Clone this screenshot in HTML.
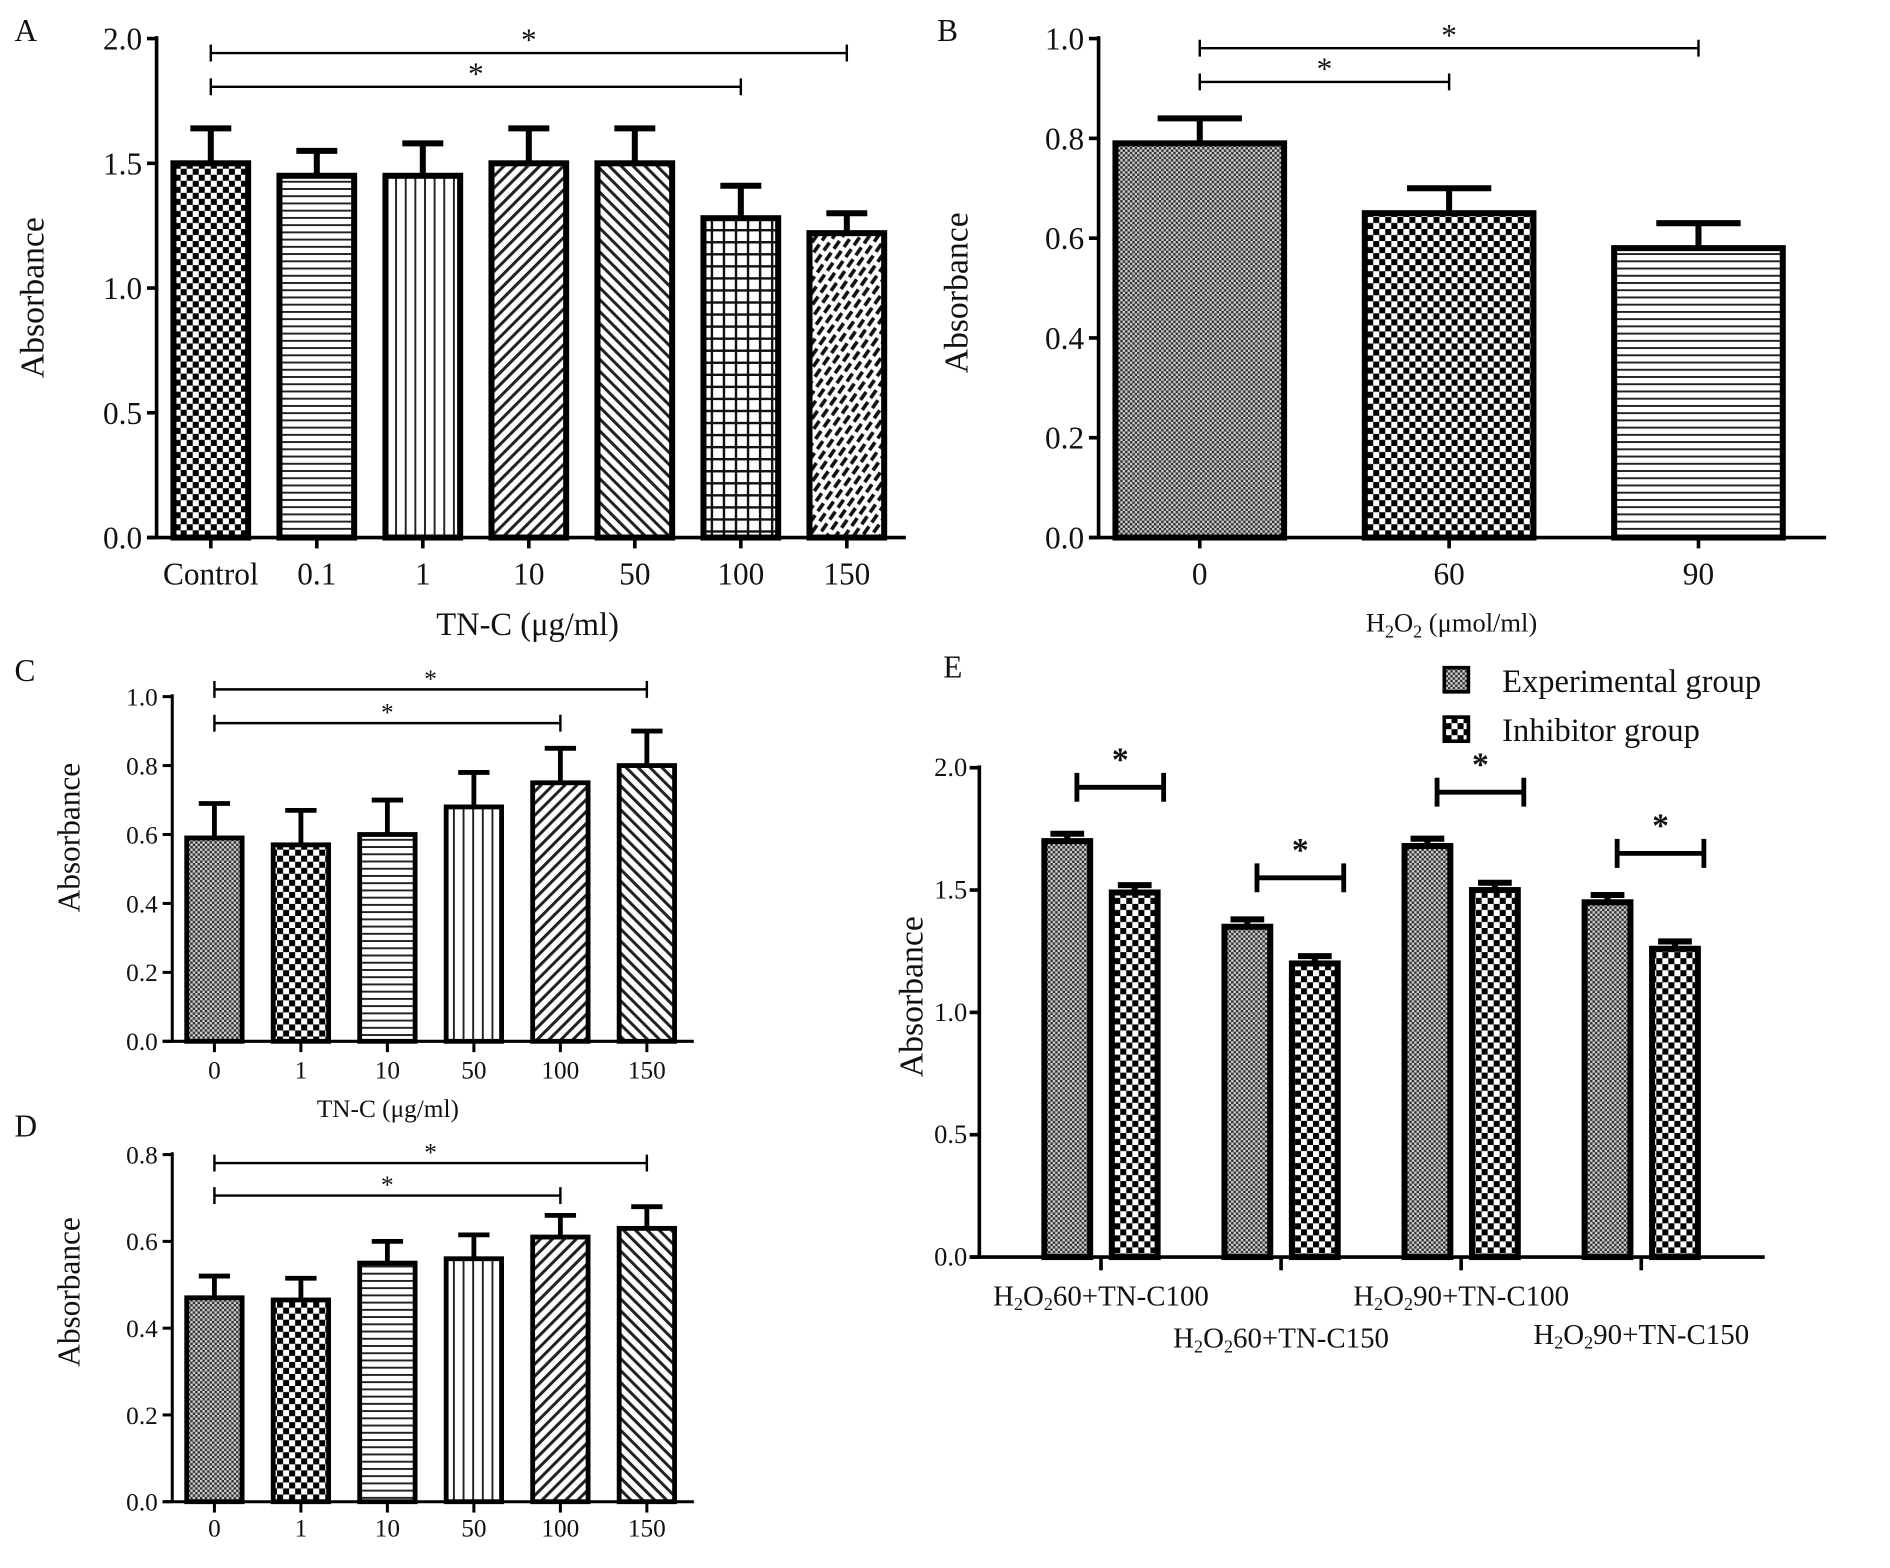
<!DOCTYPE html>
<html><head><meta charset="utf-8">
<style>
html,body{margin:0;padding:0;background:#fff;}
svg{display:block;}
text{font-family:"Liberation Serif",serif;fill:#111;}
</style></head>
<body>
<svg id="fig" width="1890" height="1568" viewBox="0 0 1569 1301" preserveAspectRatio="none" xmlns="http://www.w3.org/2000/svg">
<defs>
<pattern id="pChk" width="10" height="10" patternUnits="userSpaceOnUse"><rect width="10" height="10" fill="#fff"/><rect width="5" height="5" fill="#000"/><rect x="5" y="5" width="5" height="5" fill="#000"/></pattern>
<pattern id="pFine" width="4" height="4" patternUnits="userSpaceOnUse"><rect width="4" height="4" fill="#ccc"/><rect width="2" height="2" fill="#333"/><rect x="2" y="2" width="2" height="2" fill="#333"/></pattern>
<pattern id="pHor" width="6" height="6" patternUnits="userSpaceOnUse"><rect width="6" height="6" fill="#fff"/><rect y="0" width="6" height="1.6" fill="#222"/></pattern>
<pattern id="pVer" width="8" height="8" patternUnits="userSpaceOnUse"><rect width="8" height="8" fill="#fff"/><rect width="1.6" height="8" fill="#222"/></pattern>
<pattern id="pDiagR" width="7" height="7" patternUnits="userSpaceOnUse" patternTransform="rotate(45)"><rect width="7" height="7" fill="#fff"/><rect width="2.5" height="7" fill="#222"/></pattern>
<pattern id="pDiagL" width="7" height="7" patternUnits="userSpaceOnUse" patternTransform="rotate(-45)"><rect width="7" height="7" fill="#fff"/><rect width="2.5" height="7" fill="#222"/></pattern>
<pattern id="pGrid" width="10" height="10" patternUnits="userSpaceOnUse"><rect width="10" height="10" fill="#fff"/><rect width="2" height="10" fill="#111"/><rect width="10" height="2" fill="#111"/></pattern>
<pattern id="pDash" width="12" height="12" patternUnits="userSpaceOnUse" patternTransform="rotate(-55)"><rect width="12" height="12" fill="#fff"/><rect width="8" height="3" fill="#111"/><rect x="6" y="6" width="8" height="3" fill="#111"/><rect x="-6" y="6" width="8" height="3" fill="#111"/></pattern>
</defs>
</svg>
<script>
// ---- Panel A data ----
const aCategories = ["Control","0.1","1","10","50","100","150"];
const aValues = [1.5,1.45,1.45,1.5,1.5,1.28,1.22];
const aErrors = [0.14,0.10,0.13,0.14,0.14,0.13,0.08];
const aTicks = ["0.0","0.5","1.0","1.5","2.0"];
// ---- Panel B data ----
const bCategories = ["0","60","90"];
const bValues = [0.79,0.65,0.58];
const bErrors = [0.05,0.05,0.05];
const bTicks = ["0.0","0.2","0.4","0.6","0.8","1.0"];
// ---- Panel C data ----
const cCategories = ["0","1","10","50","100","150"];
const cValues = [0.59,0.57,0.60,0.68,0.75,0.80];
const cErrors = [0.10,0.10,0.10,0.10,0.10,0.10];
const cTicks = ["0.0","0.2","0.4","0.6","0.8","1.0"];
// ---- Panel D data ----
const dCategories = ["0","1","10","50","100","150"];
const dValues = [0.47,0.465,0.55,0.56,0.61,0.63];
const dErrors = [0.05,0.05,0.05,0.055,0.05,0.05];
const dTicks = ["0.0","0.2","0.4","0.6","0.8"];
// ---- Panel E data ----
const eCategories = ["60+TN-C100","60+TN-C150","90+TN-C100","90+TN-C150"];
const eExperimental = [1.70,1.35,1.68,1.45];
const eInhibitor = [1.49,1.20,1.50,1.26];
const eExpErr = [0.03,0.03,0.03,0.03];
const eInhErr = [0.03,0.03,0.03,0.03];
const eTicks = ["0.0","0.5","1.0","1.5","2.0"];

const svg = document.getElementById('fig');
const NS = 'http://www.w3.org/2000/svg';
function mk(tag, attrs, parent){
  const e = document.createElementNS(NS, tag);
  for (const k in attrs) e.setAttribute(k, attrs[k]);
  (parent||svg).appendChild(e);
  return e;
}
function txt(s, x, y, size, anchor, parent, rot){
  const t = mk('text', {x:x, y:y, 'font-size':size, 'text-anchor':anchor||'middle'}, parent);
  if (rot) t.setAttribute('transform', 'rotate(-90 '+x+' '+y+')');
  t.textContent = s;
  return t;
}

function panel(cfg){
  const g = mk('g', {});
  
  
  const ymax = parseFloat(cfg.ticks[cfg.ticks.length-1]);
  const yS = v => cfg.y0 - (v / ymax) * (cfg.y0 - cfg.y1);
  const xS = i => cfg.x0 + cfg.step * i;
  const ya = mk('line', {x1:cfg.ax, y1:cfg.y1-2, x2:cfg.ax, y2:cfg.y0, stroke:'#000','stroke-width':cfg.axw}, g);
  
  
  const xa = mk('line', {x1:cfg.ax-8, y1:cfg.y0, x2:cfg.axEnd, y2:cfg.y0, stroke:'#000','stroke-width':cfg.axw}, g);
  
  
  cfg.ticks.forEach(t => {
    const y = yS(parseFloat(t));
    mk('line', {x1:cfg.ax-8, y1:y, x2:cfg.ax, y2:y, stroke:'#000','stroke-width':cfg.axw}, g);
    const tl = txt(t, cfg.ax-12, y+cfg.fs*0.35, cfg.fs, 'end', g);
    
    
  });
  const n = cfg.values.length;
  for (let i=0;i<n;i++){
    const cx = xS(i);
    const v = cfg.values[i], top = yS(v), et = yS(v + cfg.errors[i]);
    const eb = mk('path', {d:'M'+cx+' '+top+'V'+et+'M'+(cx-cfg.cap)+' '+et+'H'+(cx+cfg.cap), stroke:'#000','stroke-width':cfg.bw, fill:'none'}, g);
    
    
    const r = mk('rect', {x:cx-cfg.bwid/2, y:top, width:cfg.bwid, height:cfg.y0-top, fill:'url(#'+cfg.pats[i]+')', stroke:'#000','stroke-width':cfg.bw}, g);
    
    
    mk('line', {x1:cx, y1:cfg.y0, x2:cx, y2:cfg.y0+9, stroke:'#000','stroke-width':cfg.axw}, g);
    const xl = txt(cfg.cats[i], cx, cfg.xly, cfg.fs, 'middle', g);
    
    
  }
  cfg.sig.forEach(s => {
    const x1 = xS(s[0]), x2 = xS(s[1]);
    const b = mk('path', {d:'M'+x1+' '+(s[2]-7)+'V'+(s[2]+7)+'M'+x1+' '+s[2]+'H'+x2+'M'+x2+' '+(s[2]-7)+'V'+(s[2]+7), stroke:'#000','stroke-width':2, fill:'none'}, g);
    
    
    txt('*', (x1+x2)/2, s[2]-2, cfg.fs, 'middle', g);
  });
  const yt = txt('Absorbance', cfg.ylx, cfg.yly, cfg.yfs, 'middle', g, true);
  
  
  const pl = txt(cfg.label, cfg.lx, cfg.ly, 26, 'start', g);
  
  
  return g;
}

panel({name:'panel-a', cats:aCategories, values:aValues, errors:aErrors, ticks:aTicks,
  ax:130, axEnd:752, y0:446, y1:32, x0:175, step:88, bwid:62, bw:5, axw:3, cap:17, fs:26, xly:485,
  pats:['pChk','pHor','pVer','pDiagR','pDiagL','pGrid','pDash'],
  sig:[[0,6,44],[0,5,72]], ylx:36, yly:247, yfs:28, label:'A', lx:12, ly:34});
let t = txt('TN-C (μg/ml)', 438, 527, 27);  

panel({name:'panel-b', cats:bCategories, values:bValues, errors:bErrors, ticks:bTicks,
  ax:912, axEnd:1516, y0:446, y1:32, x0:996, step:207, bwid:140, bw:5, axw:3, cap:35, fs:26, xly:485,
  pats:['pFine','pChk','pHor'],
  sig:[[0,2,40],[0,1,68]], ylx:803, yly:243, yfs:28, label:'B', lx:778, ly:34});
t = mk('text', {x:1205, y:524, 'font-size':22, 'text-anchor':'middle'});
t.innerHTML = 'H<tspan font-size="15" dy="5">2</tspan><tspan dy="-5">O</tspan><tspan font-size="15" dy="5">2</tspan><tspan dy="-5"> (μmol/ml)</tspan>';
 

panel({name:'panel-c', cats:cCategories, values:cValues, errors:cErrors, ticks:cTicks,
  ax:143, axEnd:576, y0:864, y1:578, x0:178, step:71.8, bwid:46, bw:4, axw:2.5, cap:13, fs:21, xly:895,
  pats:['pFine','pChk','pHor','pVer','pDiagR','pDiagL'],
  sig:[[0,5,572],[0,4,600]], ylx:66, yly:695, yfs:26, label:'C', lx:12, ly:565});
t = txt('TN-C (μg/ml)', 322, 927, 21);  

panel({name:'panel-d', cats:dCategories, values:dValues, errors:dErrors, ticks:dTicks,
  ax:143, axEnd:576, y0:1246, y1:958, x0:178, step:71.8, bwid:46, bw:4, axw:2.5, cap:13, fs:21, xly:1275,
  pats:['pFine','pChk','pHor','pVer','pDiagR','pDiagL'],
  sig:[[0,5,965],[0,4,992]], ylx:66, yly:1072, yfs:26, label:'D', lx:12, ly:943});

// ---- Panel E ----
(function(){
  const g = mk('g', {});
  
  
  const y0 = 1043, y1 = 637, ax = 813, ymax = 2.0;
  const yS = v => y0 - v / ymax * (y0 - y1);
  const xS = i => 914 + 149.5 * i;
  let l = mk('line', {x1:ax, y1:y1-2, x2:ax, y2:y0, stroke:'#000','stroke-width':3}, g);
   
  l = mk('line', {x1:ax-8, y1:y0, x2:1465, y2:y0, stroke:'#000','stroke-width':3}, g);
   
  eTicks.forEach(tk => {
    const y = yS(parseFloat(tk));
    mk('line', {x1:ax-8, y1:y, x2:ax, y2:y, stroke:'#000','stroke-width':3}, g);
    const tl = txt(tk, ax-10, y+7, 22, 'end', g);
     
  });
  const series = [[eExperimental, eExpErr, 'pFine', -28, 'experimental'], [eInhibitor, eInhErr, 'pChk', 28, 'inhibitor']];
  const labY = [1083, 1118, 1083, 1115];
  const sigOff = [0.22, 0.2, 0.22, 0.2];
  for (let i=0;i<eCategories.length;i++){
    const cx = xS(i);
    series.forEach(s => {
      const bx = cx + s[3], v = s[0][i], top = yS(v), et = yS(v + s[1][i]);
      const eb = mk('path', {d:'M'+bx+' '+top+'V'+et+'M'+(bx-14)+' '+et+'H'+(bx+14), stroke:'#000','stroke-width':5, fill:'none'}, g);
       
      const r = mk('rect', {x:bx-19, y:top, width:38, height:y0-top, fill:'url(#'+s[2]+')', stroke:'#000','stroke-width':5}, g);
       
    });
    mk('line', {x1:cx, y1:y0, x2:cx, y2:y0+11, stroke:'#000','stroke-width':3}, g);
    const sy = yS(Math.max(eExperimental[i], eInhibitor[i]) + sigOff[i]);
    const x1 = cx - 20, x2 = cx + 52;
    const b = mk('path', {d:'M'+x1+' '+(sy-12)+'V'+(sy+12)+'M'+x1+' '+sy+'H'+x2+'M'+x2+' '+(sy-12)+'V'+(sy+12), stroke:'#000','stroke-width':4, fill:'none'}, g);
     
    const st = mk('text', {x:(x1+x2)/2, y:sy-14, 'font-size':28, 'font-weight':'bold', 'text-anchor':'middle'}, g);
    st.setAttribute('font-family','"Liberation Sans",sans-serif');
    st.textContent = '*';
    const xl = mk('text', {x:cx, y:labY[i], 'font-size':24, 'text-anchor':'middle'}, g);
     
    xl.innerHTML = 'H<tspan font-size="15" dy="4">2</tspan><tspan dy="-4">O</tspan><tspan font-size="15" dy="4">2</tspan><tspan dy="-4">' + eCategories[i] + '</tspan>';
  }
  const yt = txt('Absorbance', 766, 827, 28, 'middle', g, true);
   
  const pl = txt('E', 783, 562, 26, 'start', g);
   
  const lg = mk('g', {}, g);
   
  const le1 = mk('g', {}, lg);
   
  mk('rect', {x:1199, y:554, width:20, height:20, fill:'url(#pFine)', stroke:'#000','stroke-width':3}, le1);
  txt('Experimental group', 1247, 574, 27, 'start', le1);
  const le2 = mk('g', {}, lg);
   
  mk('rect', {x:1199, y:595, width:20, height:20, fill:'url(#pChk)', stroke:'#000','stroke-width':3}, le2);
  txt('Inhibitor group', 1247, 615, 27, 'start', le2);
})();
</script>
</body></html>
